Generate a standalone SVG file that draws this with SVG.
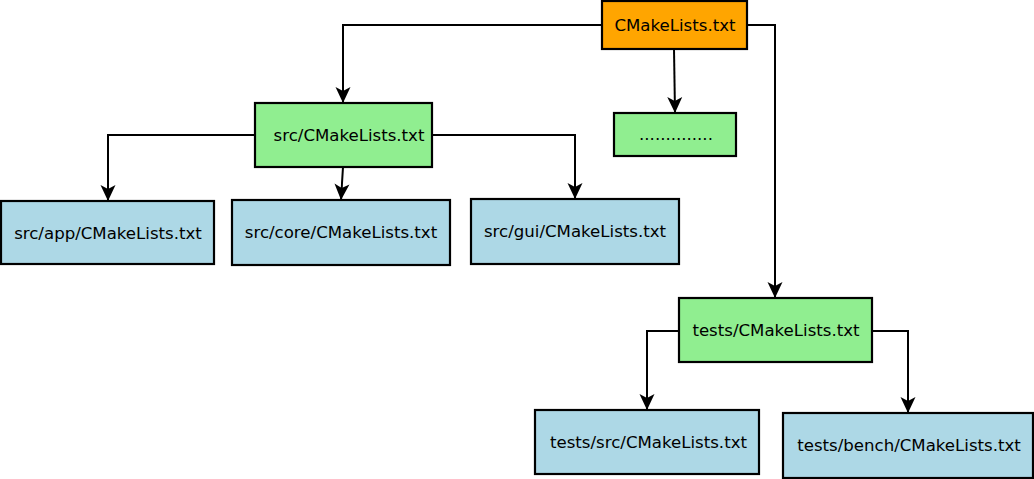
<svg xmlns="http://www.w3.org/2000/svg" width="1034" height="479" viewBox="0 0 1034 479">
  <style>
    .box { stroke: #000; stroke-width: 2.2; }
    .root { fill: #FFA500; }
    .mid { fill: #90EE90; }
    .leaf { fill: #ADD8E6; }
    .lbl { font-family: "DejaVu Sans", sans-serif; font-size: 16.6px; fill: #000; text-anchor: middle; dominant-baseline: central; }
    .edge { fill: none; stroke: #000; stroke-width: 2; }
  </style>
  <defs>
    <marker id="arrow" markerUnits="userSpaceOnUse" markerWidth="18" markerHeight="18" viewBox="-17 -9 18 18" refX="0" refY="0" orient="auto">
      <path d="M0,0 L-16,-7.5 L-12,0 L-16,7.5 Z" fill="#000"/>
    </marker>
  </defs>
  <rect width="1034" height="479" fill="#fff"/>

  <g id="connectors">
    <polyline class="edge" points="602,25 343,25 343,103" marker-end="url(#arrow)"/>
    <polyline class="edge" points="674,49 675,113" marker-end="url(#arrow)"/>
    <polyline class="edge" points="747,25 775,25 775,298" marker-end="url(#arrow)"/>
    <polyline class="edge" points="255,135 108,135 108,201" marker-end="url(#arrow)"/>
    <polyline class="edge" points="343,167 341,200" marker-end="url(#arrow)"/>
    <polyline class="edge" points="432,135 575,135 575,199" marker-end="url(#arrow)"/>
    <polyline class="edge" points="679,331 647,331 647,410" marker-end="url(#arrow)"/>
    <polyline class="edge" points="872,331 908,331 908,413" marker-end="url(#arrow)"/>
  </g>

  <g id="root-cmakelists">
    <rect class="box root" x="602" y="1" width="145" height="48"/>
    <text class="lbl" x="675" y="25">CMakeLists.txt</text>
  </g>
  <g id="src-cmakelists">
    <rect class="box mid" x="255" y="103" width="177" height="64"/>
    <text class="lbl" x="349" y="135">src/CMakeLists.txt</text>
  </g>
  <g id="dots">
    <rect class="box mid" x="614" y="113" width="122" height="43"/>
    <text class="lbl" x="676" y="134">..............</text>
  </g>
  <g id="src-app">
    <rect class="box leaf" x="1" y="201" width="213" height="63"/>
    <text class="lbl" x="108" y="233">src/app/CMakeLists.txt</text>
  </g>
  <g id="src-core">
    <rect class="box leaf" x="232" y="200" width="218" height="65"/>
    <text class="lbl" x="341" y="232">src/core/CMakeLists.txt</text>
  </g>
  <g id="src-gui">
    <rect class="box leaf" x="471" y="199" width="208" height="65"/>
    <text class="lbl" x="575" y="231">src/gui/CMakeLists.txt</text>
  </g>
  <g id="tests-cmakelists">
    <rect class="box mid" x="679" y="298" width="193" height="64"/>
    <text class="lbl" x="776" y="330">tests/CMakeLists.txt</text>
  </g>
  <g id="tests-src">
    <rect class="box leaf" x="535" y="410" width="224" height="64"/>
    <text class="lbl" x="648.5" y="442">tests/src/CMakeLists.txt</text>
  </g>
  <g id="tests-bench">
    <rect class="box leaf" x="783" y="413" width="250" height="65"/>
    <text class="lbl" x="909" y="445">tests/bench/CMakeLists.txt</text>
  </g>
</svg>
